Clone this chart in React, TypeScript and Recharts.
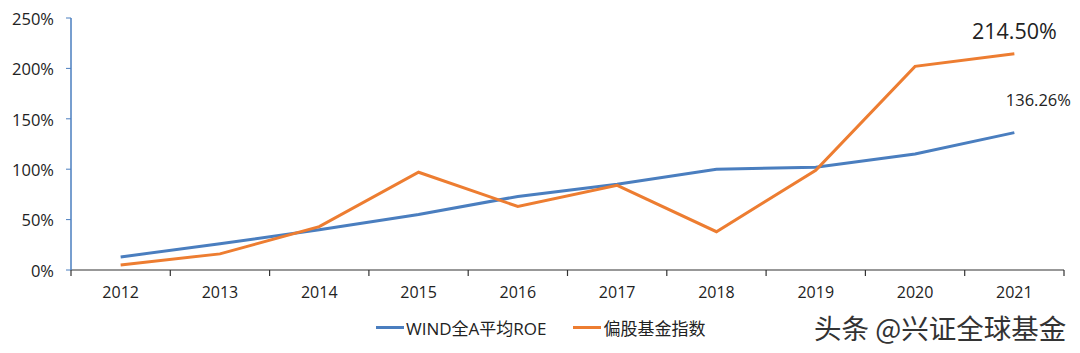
import React from "react";
import { LineChart, Line, XAxis, YAxis, LabelList } from "recharts";

const years = ["2012", "2013", "2014", "2015", "2016", "2017", "2018", "2019", "2020", "2021"];
const windRoe = [13, 26, 40, 55, 73, 85, 100, 102, 115, 136.26];
const fundIndex = [5, 16, 43, 97, 63, 84, 38, 99, 202, 214.5];
const yTicks = [0, 50, 100, 150, 200, 250];

const data = years.map((year, i) => ({ year, wind: windRoe[i], fund: fundIndex[i] }));

const W = 1080;
const H = 353;
const LEFT = 71;
const RIGHT = 16;
const BAND = (W - LEFT - RIGHT) / years.length;
const FONT = "'Open Sans', 'Noto Sans CJK SC', sans-serif";
const BLUE = "#4A7EBF";
const ORANGE = "#ED7D31";

const XTick = (props: any) => {
  const { x, y, payload, index } = props;
  const left = x - BAND / 2;
  return (
    <g>
      <line x1={left} x2={left} y1={y - 8} y2={y - 2} stroke="#333" strokeWidth={1.2} />
      {index === years.length - 1 && (
        <line x1={x + BAND / 2} x2={x + BAND / 2} y1={y - 8} y2={y - 2} stroke="#333" strokeWidth={1.2} />
      )}
      <text x={x} y={y + 20} textAnchor="middle" fontSize={16} fill="#222" fontFamily={FONT}>
        {payload.value}
      </text>
    </g>
  );
};

const lastLabel = (dx: number, dy: number, size: number) => (props: any) => {
  const { x, y, index, value } = props;
  if (index !== years.length - 1) return null;
  return (
    <text x={x + dx} y={y + dy} textAnchor="middle" fontSize={size} fill="#222" fontFamily={FONT}>
      {`${Number(value).toFixed(2)}%`}
    </text>
  );
};

export default function App() {
  return (
    <div style={{ position: "absolute", left: 0, top: 0, width: W, height: H, background: "#fff" }}>
      <LineChart width={W} height={H} data={data} margin={{ top: 18, right: RIGHT, left: 0, bottom: 83 - 30 }}>
        <XAxis
          dataKey="year"
          tick={<XTick />}
          tickLine={false}
          axisLine={{ stroke: "#333", strokeWidth: 1.2 }}
          height={30}
          interval={0}
          padding={{ left: BAND / 2, right: BAND / 2 }}
        />
        <YAxis
          width={LEFT}
          domain={[0, 250]}
          ticks={yTicks}
          tickFormatter={(v) => `${v}%`}
          axisLine={{ stroke: BLUE, strokeWidth: 1.5 }}
          tickLine={{ stroke: BLUE }}
          tickSize={5}
          tickMargin={12}
          tick={{ fontSize: 16.5, fill: "#222", fontFamily: FONT, dy: 1 }}
        />
        <Line dataKey="wind" stroke={BLUE} strokeWidth={3} dot={false} isAnimationActive={false}>
          <LabelList dataKey="wind" content={lastLabel(24, -27, 16.5)} />
        </Line>
        <Line dataKey="fund" stroke={ORANGE} strokeWidth={3} dot={false} isAnimationActive={false}>
          <LabelList dataKey="fund" content={lastLabel(0, -15, 21.5)} />
        </Line>
      </LineChart>
      <div
        style={{
          position: "absolute",
          top: 315,
          left: 376,
          display: "flex",
          alignItems: "center",
          fontFamily: FONT,
          fontSize: 17,
          color: "#222",
        }}
      >
        <span style={{ display: "inline-block", width: 28, height: 3, background: BLUE, marginRight: 2 }} />
        <span>WIND全A平均ROE</span>
        <span style={{ display: "inline-block", width: 28, height: 3, background: ORANGE, marginLeft: 26, marginRight: 3 }} />
        <span>偏股基金指数</span>
      </div>
      <div
        style={{
          position: "absolute",
          top: 307,
          left: 814,
          fontFamily: "'Noto Sans CJK SC', sans-serif",
          fontSize: 27.5,
          color: "#333",
          textShadow: "1px 1px 0 #fff, -1px -1px 0 #fff",
          whiteSpace: "nowrap",
        }}
      >
        头条 @兴证全球基金
      </div>
    </div>
  );
}
